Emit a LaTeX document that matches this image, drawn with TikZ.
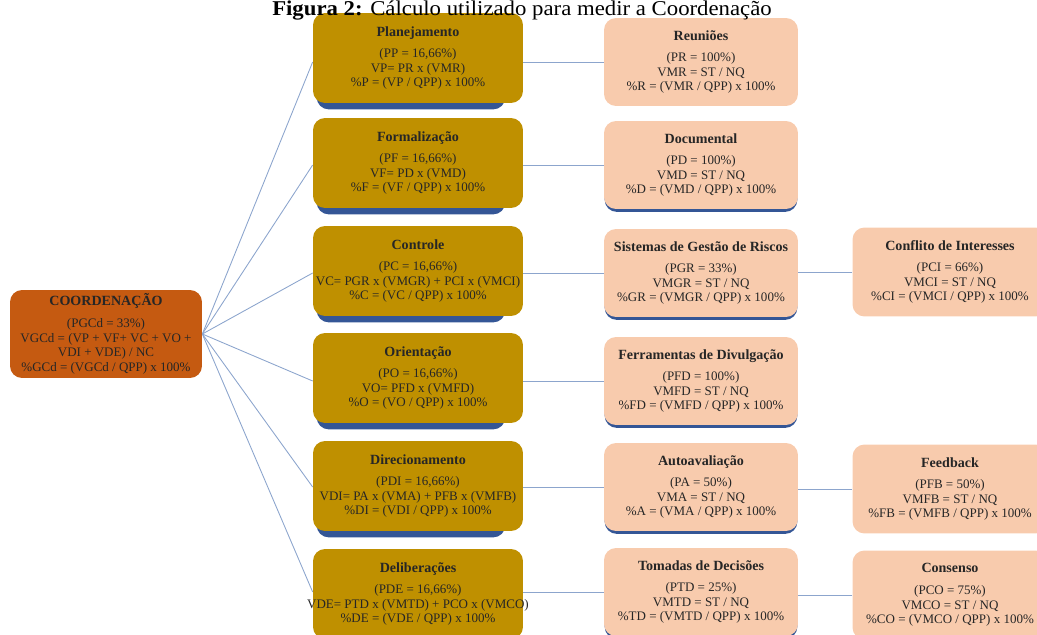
\documentclass[tikz,border=0pt]{standalone}
\usepackage{fontspec}
\setmainfont{Liberation Serif}
\usetikzlibrary{positioning, calc, backgrounds}
\definecolor{goldbox}{RGB}{191,144,0}
\definecolor{peachbox}{RGB}{248,203,173}
\definecolor{rootbox}{RGB}{197,90,17}
\definecolor{shadeblue}{RGB}{52,86,150}
\definecolor{linkblue}{RGB}{140,165,205}
\newcommand{\boxhead}[1]{{\fontsize{8}{8}\selectfont\bfseries #1}\\[4pt]}

\begin{document}
\begin{tikzpicture}[x=0.02cm, y=-0.02cm,
  box/.style={rounded corners=0.24cm, align=center, inner sep=0pt, font=\fontsize{7.4}{8.3}\selectfont, text=black!85},
  lvlone/.style={box, fill=goldbox, minimum width=4.2cm, minimum height=1.8cm},
  lvltwo/.style={box, fill=peachbox, minimum width=3.88cm, minimum height=1.76cm},
  lvlthree/.style={box, fill=peachbox, minimum width=3.9cm, minimum height=1.78cm},
  rootnode/.style={box, fill=rootbox, minimum width=3.84cm, minimum height=1.76cm},
  link/.style={draw=linkblue, line width=0.5pt}]
\useasboundingbox (0,0) rectangle (1037,635);

\node[rootnode] (coord) at (106,334) {\boxhead{COORDENAÇÃO}(PGCd = 33\%)\\VGCd = (VP + VF+ VC + VO +\\VDI + VDE) / NC\\\%GCd = (VGCd / QPP) x 100\%};

\node[lvlone] (plan) at (418,58) {\boxhead{Planejamento}(PP = 16,66\%)\\VP= PR x (VMR)\\\%P = (VP / QPP) x 100\%};
\node[lvlone] (form) at (418,163) {\boxhead{Formalização}(PF = 16,66\%)\\VF= PD x (VMD)\\\%F = (VF / QPP) x 100\%};
\node[lvlone] (ctrl) at (418,271) {\boxhead{Controle}(PC = 16,66\%)\\VC= PGR x (VMGR) + PCI x (VMCI)\\\%C = (VC / QPP) x 100\%};
\node[lvlone] (orie) at (418,378) {\boxhead{Orientação}(PO = 16,66\%)\\VO= PFD x (VMFD)\\\%O = (VO / QPP) x 100\%};
\node[lvlone] (dire) at (418,486) {\boxhead{Direcionamento}(PDI = 16,66\%)\\VDI= PA x (VMA) + PFB x (VMFB)\\\%DI = (VDI / QPP) x 100\%};
\node[lvlone] (deli) at (418,594) {\boxhead{Deliberações}(PDE = 16,66\%)\\\makebox[3.9cm]{VDE= PTD x (VMTD) + PCO x (VMCO)}\\\%DE = (VDE / QPP) x 100\%};

\node[lvltwo] (reun) at (701,62) {\boxhead{Reuniões}(PR = 100\%)\\VMR = ST / NQ\\\%R = (VMR / QPP) x 100\%};
\node[lvltwo] (docu) at (701,165) {\boxhead{Documental}(PD = 100\%)\\VMD = ST / NQ\\\%D = (VMD / QPP) x 100\%};
\node[lvltwo] (sist) at (701,273) {\boxhead{Sistemas de Gestão de Riscos}(PGR = 33\%)\\VMGR = ST / NQ\\\%GR = (VMGR / QPP) x 100\%};
\node[lvltwo] (ferr) at (701,381) {\boxhead{Ferramentas de Divulgação}(PFD = 100\%)\\VMFD = ST / NQ\\\%FD = (VMFD / QPP) x 100\%};
\node[lvltwo] (auto) at (701,487) {\boxhead{Autoavaliação}(PA = 50\%)\\VMA = ST / NQ\\\%A = (VMA / QPP) x 100\%};
\node[lvltwo] (toma) at (701,592) {\boxhead{Tomadas de Decisões}(PTD = 25\%)\\VMTD = ST / NQ\\\%TD = (VMTD / QPP) x 100\%};

\node[lvlthree] (conf) at (950,272) {\boxhead{Conflito de Interesses}(PCI = 66\%)\\VMCI = ST / NQ\\\%CI = (VMCI / QPP) x 100\%};
\node[lvlthree] (feed) at (950,489) {\boxhead{Feedback}(PFB = 50\%)\\VMFB = ST / NQ\\\%FB = (VMFB / QPP) x 100\%};
\node[lvlthree] (cons) at (950,595) {\boxhead{Consenso}(PCO = 75\%)\\VMCO = ST / NQ\\\%CO = (VMCO / QPP) x 100\%};

\node[font=\fontsize{12}{12}\selectfont, anchor=base] (fig) at (522,15.5) {\scalebox{1.08}[1]{\textbf{Figura 2:} Cálculo utilizado para medir a Coordenação}};

\begin{scope}[on background layer]
\foreach \n in {plan,form,ctrl,orie,dire,deli}
  \fill[shadeblue, rounded corners=0.24cm] ($(\n.south west)+(4,6)$) rectangle ($(\n.north east)+(-18,6)$);
\foreach \n in {docu,sist,ferr,auto,toma}
  \fill[shadeblue, rounded corners=0.24cm] ($(\n.south west)+(1,2.5)$) rectangle ($(\n.north east)+(-1,2.5)$);
\foreach \a/\b in {plan/reun,form/docu,ctrl/sist,orie/ferr,dire/auto,deli/toma}{
  \draw[link] (coord.east) -- (\a.west |- \b.west);
  \draw[link] (\b.west) -- (\a.east |- \b.west);
}
\foreach \a/\b in {sist/conf,auto/feed,toma/cons}
  \draw[link] (\b.west) -- (\a.east |- \b.west);
\end{scope}
\end{tikzpicture}
\end{document}
